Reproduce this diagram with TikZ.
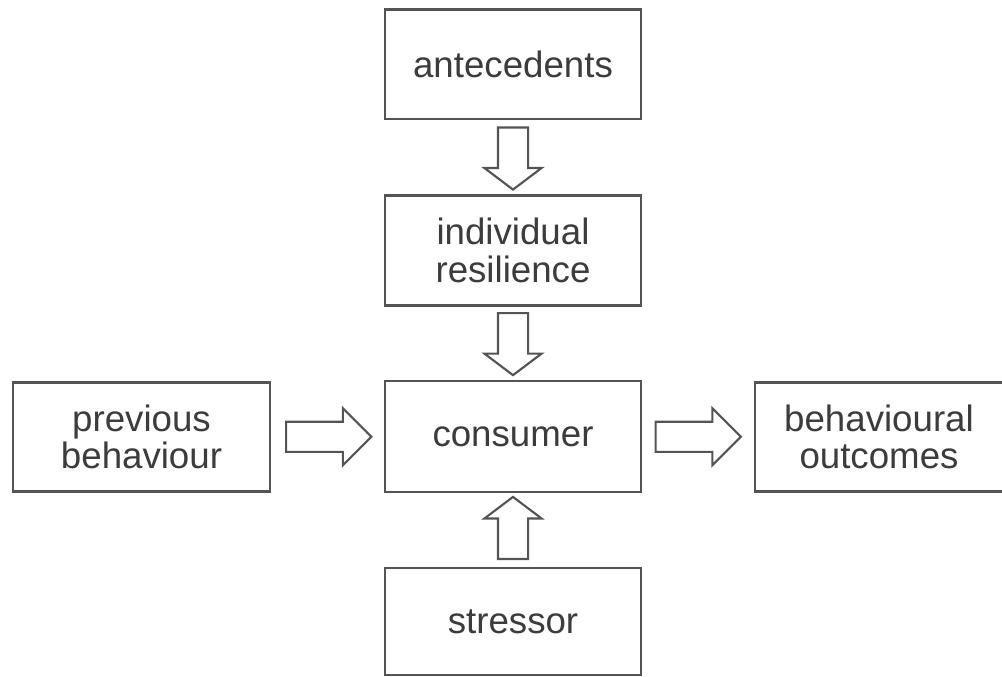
\documentclass[tikz,border=0pt]{standalone}
\usepackage{fontspec}
\setmainfont{Liberation Sans}
\usetikzlibrary{shapes.arrows,calc}

\definecolor{boxgray}{RGB}{84,84,84}
\definecolor{textgray}{RGB}{60,60,60}

\tikzset{every picture/.style={line width=0.75pt}}
\tikzset{
  stagebox/.style={draw=boxgray, line width=2pt, fill=white, text=textgray,
    minimum width=192pt, minimum height=82pt, align=center, inner sep=0pt,
    font=\fontsize{27.5}{28}\selectfont},
  blockarrow/.style={single arrow, draw=boxgray, line width=1.6pt, fill=white,
    inner xsep=0pt, inner ysep=10.5pt, single arrow head extend=10.1pt, anchor=tail},
  vertarrow/.style={blockarrow, minimum height=46.5pt, single arrow tip angle=106},
  horizarrow/.style={blockarrow, minimum height=64pt, single arrow tip angle=90}
}

\begin{document}
\begin{tikzpicture}[x=0.75pt,y=0.75pt,yscale=-1,xscale=1]
\useasboundingbox (0,0) rectangle (1002,677);

% Boxes
\node [stagebox] (ante) at (513,64.5) {antecedents};
\node [stagebox] (res) at (513,250.5) {individual\\resilience};
\node [stagebox, minimum height=83.25pt] (cons) at (513,436.5) {consumer};
\node [stagebox, minimum height=80.25pt] (stress) at (513,621.5) {stressor};
\node [stagebox, minimum width=192.75pt] (prev) at (141.5,437) {previous\\behaviour};
\node [stagebox, minimum width=186pt] (outc) at (879,437) {behavioural\\outcomes};

% Block arrows (tail set back by half their length)
\node [vertarrow, rotate=-90] (a1) at ($(ante.south)!0.5!(res.north)+(0,-31)$) {};
\node [vertarrow, rotate=-90] (a2) at ($(res.south)!0.5!(cons.north)+(0,-31)$) {};
\node [vertarrow, rotate=90] (a3) at ($(stress.north)!0.5!(cons.south)+(0,30)$) {};
\node [horizarrow] (a4) at ($(prev.east)!0.5!(cons.west)+(-42.5,0)$) {};
\node [horizarrow] (a5) at ($(cons.east)!0.5!(outc.west)+(-43.5,0)$) {};
\end{tikzpicture}
\end{document}
